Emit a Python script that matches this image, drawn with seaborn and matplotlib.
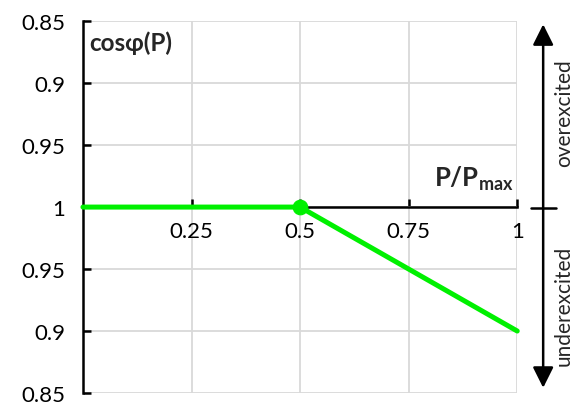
import numpy as np
import pandas as pd
import matplotlib
matplotlib.use("Agg")
import matplotlib.pyplot as plt
import seaborn as sns
from matplotlib.patches import FancyArrowPatch

# Data
p_ratio = [0.0, 0.5, 1.0]
cos_phi = [1.0, 1.0, 0.9]
excitation = ["under", "under", "under"]   # side of the characteristic
x_ticks = [0.25, 0.5, 0.75, 1.0]
x_tick_labels = ["0.25", "0.5", "0.75", "1"]
y_tick_values = [-0.15, -0.10, -0.05, 0.0, 0.05, 0.10, 0.15]
y_tick_labels = ["0.85", "0.9", "0.95", "1", "0.95", "0.9", "0.85"]

sns.set_style("white")
plt.rcParams["font.family"] = ["Lato", "DejaVu Sans"]
plt.rcParams["mathtext.fontset"] = "custom"
plt.rcParams["mathtext.rm"] = "Lato"
plt.rcParams["mathtext.bf"] = "Lato:bold"

sign = {"over": 1.0, "under": -1.0}
df = pd.DataFrame({
    "P": p_ratio,
    "dev": [sign[e] * (1 - c) for e, c in zip(excitation, cos_phi)],
})

fig = plt.figure(figsize=(5.76, 4.10), dpi=100)
ax = fig.add_axes([0.144, 0.039, 0.754, 0.907])

green = "#00f000"
sns.lineplot(data=df, x="P", y="dev", ax=ax, color=green, linewidth=3.6,
             zorder=5, clip_on=False)
sns.scatterplot(x=[df["P"][1]], y=[df["dev"][1]], ax=ax, color=green, s=110,
                edgecolor=green, zorder=6, clip_on=False)

ax.set_xlim(0, 1)
ax.set_ylim(-0.15, 0.15)
ax.set_xlabel("")
ax.set_ylabel("")

# Grid
ax.set_xticks(x_ticks)
ax.set_xticklabels(x_tick_labels)
ax.set_yticks(y_tick_values)
ax.set_yticklabels(y_tick_labels)
ax.grid(True, color="#d9d9d9", linewidth=1.3)
ax.set_axisbelow(True)

for s in ["top", "right"]:
    ax.spines[s].set_visible(False)
ax.spines["left"].set_linewidth(1.8)
ax.spines["left"].set_color("black")
ax.spines["bottom"].set_position(("data", 0))
ax.spines["bottom"].set_linewidth(1.8)
ax.spines["bottom"].set_color("black")
ax.spines["bottom"].set_zorder(4)

ax.tick_params(axis="y", direction="in", length=6, width=1.8, labelsize=16,
               pad=13, left=True, colors="black")
ax.tick_params(axis="x", direction="in", length=6, width=1.8, labelsize=16,
               pad=10, bottom=True, colors="black")

ax.text(0.015, 0.133, "cosφ(P)", fontsize=17.5, fontweight="bold",
        ha="left", va="center")
ax.text(0.992, 0.012, r"$\mathbf{P/P_{max}}$", fontsize=18.5,
        ha="right", va="bottom")

# Right-hand double arrow with mid tick
xa = 0.943
arrow = FancyArrowPatch((xa, 0.045), (xa, 0.945), transform=fig.transFigure,
                        arrowstyle="<|-|>,head_length=0.9,head_width=0.45",
                        mutation_scale=14, color="black", linewidth=1.8)
fig.patches.append(arrow)
ymid = 1 - 209 / 410
fig.add_artist(plt.Line2D([0.922, 0.965], [ymid, ymid], transform=fig.transFigure,
                          color="black", linewidth=1.8))
fig.text(0.979, 0.725, "overexcited", rotation=90, ha="center", va="center",
         fontsize=15)
fig.text(0.979, 0.255, "underexcited", rotation=90, ha="center", va="center",
         fontsize=15)

fig.savefig("out.png", dpi=100)
